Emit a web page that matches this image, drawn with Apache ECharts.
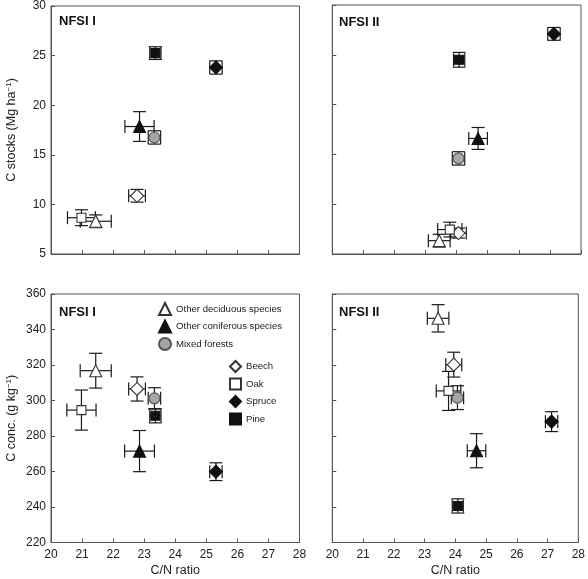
<!DOCTYPE html>
<html>
<head>
<meta charset="utf-8">
<script src="https://cdn.jsdelivr.net/npm/echarts@6/dist/echarts.min.js"></script>
<style>html,body{margin:0;padding:0;background:#fff}#c{width:588px;height:579px}</style>
</head>
<body>
<div id="c"></div>
<script>
// Species order
const species = ['Other deciduous species', 'Other coniferous species', 'Mixed forests', 'Beech', 'Oak', 'Spruce', 'Pine'];
const panelLabels = ['NFSI I', 'NFSI II', 'NFSI I', 'NFSI II'];
const xTicks = [20, 21, 22, 23, 24, 25, 26, 27, 28];
const stockTicks = [5, 10, 15, 20, 25, 30];
const concTicks = [220, 240, 260, 280, 300, 320, 340, 360];

// C stocks, NFSI I
const stocksI_x    = [21.44, 22.85, 23.33, 22.77, 20.98, 25.31, 23.36];
const stocksI_xerr = [0.50, 0.47, 0.20, 0.27, 0.45, 0.20, 0.18];
const stocksI_y    = [8.3, 17.85, 16.75, 10.87, 8.66, 23.8, 25.25];
const stocksI_yerr = [0.64, 1.5, 0.67, 0.64, 0.8, 0.67, 0.64];
// C stocks, NFSI II
const stocksII_x    = [23.44, 24.69, 24.06, 24.06, 23.78, 27.13, 24.08];
const stocksII_xerr = [0.35, 0.30, 0.20, 0.25, 0.39, 0.20, 0.18];
const stocksII_y    = [6.34, 16.6, 14.6, 7.1, 7.45, 27.1, 24.5];
const stocksII_yerr = [0.64, 1.1, 0.67, 0.5, 0.74, 0.64, 0.74];
// C concentration, NFSI I
const concI_x    = [21.44, 22.85, 23.33, 22.77, 20.98, 25.31, 23.36];
const concI_xerr = [0.50, 0.48, 0.20, 0.27, 0.47, 0.20, 0.18];
const concI_y    = [316.8, 271.5, 301.2, 306.5, 294.6, 259.9, 291.4];
const concI_yerr = [9.8, 11.6, 6.0, 6.8, 11.3, 5.0, 4.0];
// C concentration, NFSI II
const concII_x    = [23.44, 24.69, 24.07, 23.95, 23.78, 27.13, 24.08];
const concII_xerr = [0.35, 0.30, 0.20, 0.26, 0.40, 0.20, 0.18];
const concII_y    = [346.3, 271.7, 301.6, 320.2, 305.4, 288.1, 240.6];
const concII_yerr = [7.7, 9.6, 6.7, 7.0, 11.0, 5.6, 4.0];

const panels = [
  {x: stocksI_x, xe: stocksI_xerr, y: stocksI_y, ye: stocksI_yerr},
  {x: stocksII_x, xe: stocksII_xerr, y: stocksII_y, ye: stocksII_yerr},
  {x: concI_x, xe: concI_xerr, y: concI_y, ye: concI_yerr},
  {x: concII_x, xe: concII_xerr, y: concII_y, ye: concII_yerr}
];

const styles = {
  'Other deciduous species': {symbol: 'triangle', size: 12, color: '#ffffff', border: '#333333'},
  'Other coniferous species': {symbol: 'triangle', size: 12, color: '#111111', border: '#111111'},
  'Mixed forests': {symbol: 'circle', size: 11, color: '#a6a6a6', border: '#555555'},
  'Beech': {symbol: 'diamond', size: 13, color: '#ffffff', border: '#333333'},
  'Oak': {symbol: 'rect', size: 9, color: '#ffffff', border: '#333333'},
  'Spruce': {symbol: 'diamond', size: 13, color: '#111111', border: '#111111'},
  'Pine': {symbol: 'rect', size: 9, color: '#111111', border: '#111111'}
};

const grids = [
  {left: 51, top: 5, width: 248.5, height: 249},
  {left: 332.3, top: 5, width: 248.7, height: 249},
  {left: 51, top: 294, width: 248.5, height: 248.5},
  {left: 332.3, top: 294, width: 248.7, height: 248.5}
];

const axisColor = '#555555';
const textColor = '#222222';
const font = 'Liberation Sans, Arial, sans-serif';

const xAxes = grids.map((g, i) => ({
  type: 'value', gridIndex: i, min: xTicks[0], max: xTicks[xTicks.length - 1], interval: 1,
  axisLine: {show: true, lineStyle: {color: axisColor, width: 1}},
  axisTick: {show: true, inside: true, length: 4, lineStyle: {color: axisColor}},
  axisLabel: {show: i >= 2, fontSize: 12, color: textColor, fontFamily: font, margin: 6},
  splitLine: {show: false},
  name: i >= 2 ? 'C/N ratio' : '', nameLocation: 'middle', nameGap: 22,
  nameTextStyle: {fontSize: 12.5, color: textColor, fontFamily: font}
}));

const yAxes = grids.map((g, i) => {
  const t = i < 2 ? stockTicks : concTicks;
  return {
    type: 'value', gridIndex: i, min: t[0], max: t[t.length - 1], interval: t[1] - t[0],
    axisLine: {show: true, lineStyle: {color: axisColor, width: 1}},
    axisTick: {show: true, inside: true, length: 4, lineStyle: {color: axisColor}},
    axisLabel: {show: i % 2 === 0, fontSize: 12, color: textColor, fontFamily: font, margin: 5},
    splitLine: {show: false},
    name: i === 0 ? 'C stocks (Mg ha{sup|−1})' : (i === 2 ? 'C conc. (g kg{sup|−1})' : ''),
    nameLocation: 'middle', nameGap: 32, nameRotate: 90,
    nameTextStyle: {fontSize: 12.5, color: textColor, fontFamily: font,
      rich: {sup: {fontSize: 8, color: textColor, fontFamily: font, verticalAlign: 'top', lineHeight: 14}}}
  };
});

function errRender(params, api) {
  const x = api.value(0), y = api.value(1), xe = api.value(2), ye = api.value(3);
  const c = api.coord([x, y]);
  const l = api.coord([x - xe, y]), r = api.coord([x + xe, y]);
  const t = api.coord([x, y + ye]), b = api.coord([x, y - ye]);
  const h = 6.5;
  const st = {stroke: '#1a1a1a', lineWidth: 1.2, fill: null};
  const ln = (x1, y1, x2, y2) => ({type: 'line', shape: {x1, y1, x2, y2}, style: st});
  return {type: 'group', children: [
    ln(l[0], c[1], r[0], c[1]),
    ln(l[0], c[1] - h, l[0], c[1] + h),
    ln(r[0], c[1] - h, r[0], c[1] + h),
    ln(c[0], t[1], c[0], b[1]),
    ln(c[0] - h, t[1], c[0] + h, t[1]),
    ln(c[0] - h, b[1], c[0] + h, b[1])
  ]};
}

const series = [];
panels.forEach((p, i) => {
  series.push({
    type: 'custom', xAxisIndex: i, yAxisIndex: i, renderItem: errRender, z: 2, silent: true,
    encode: {x: 0, y: 1},
    data: p.x.map((v, k) => [v, p.y[k], p.xe[k], p.ye[k]])
  });
  species.forEach((s, k) => {
    const st = styles[s];
    series.push({
      type: 'scatter', name: s, xAxisIndex: i, yAxisIndex: i, z: 3,
      symbol: st.symbol, symbolSize: st.size,
      itemStyle: {color: st.color, borderColor: st.border, borderWidth: 1.1, opacity: 1},
      data: [[p.x[k], p.y[k]]]
    });
  });
});

const titlePos = [{left: 59, top: 15}, {left: 339, top: 16}, {left: 59, top: 306}, {left: 339, top: 306}];

const option = {
  animation: false,
  backgroundColor: '#ffffff',
  textStyle: {fontFamily: font},
  title: panelLabels.map((t, i) => ({text: t, left: titlePos[i].left, top: titlePos[i].top, padding: 0,
    textStyle: {fontSize: 13, fontWeight: 'bold', color: '#111', fontFamily: font}})),
  grid: grids.map(g => Object.assign({show: true, borderColor: axisColor, borderWidth: 1, containLabel: false}, g)),
  xAxis: xAxes,
  yAxis: yAxes,
  legend: [
    {data: species.slice(0, 3).map(s => ({name: s, icon: styles[s].symbol})),
     orient: 'vertical', left: 158, top: 302, itemWidth: 12, itemHeight: 12, itemGap: 3.5, padding: 0,
     selectedMode: false, textStyle: {fontSize: 9.6, color: textColor, fontFamily: font}},
    {data: species.slice(3).map(s => ({name: s, icon: styles[s].symbol})),
     orient: 'vertical', left: 229, top: 360, itemWidth: 11, itemHeight: 11, itemGap: 4.5, padding: 0,
     selectedMode: false, textStyle: {fontSize: 9.6, color: textColor, fontFamily: font}}
  ],
  series: series
};

const chart = echarts.init(document.getElementById('c'), null, {renderer: 'canvas'});
chart.setOption(option);
</script>
</body>
</html>
